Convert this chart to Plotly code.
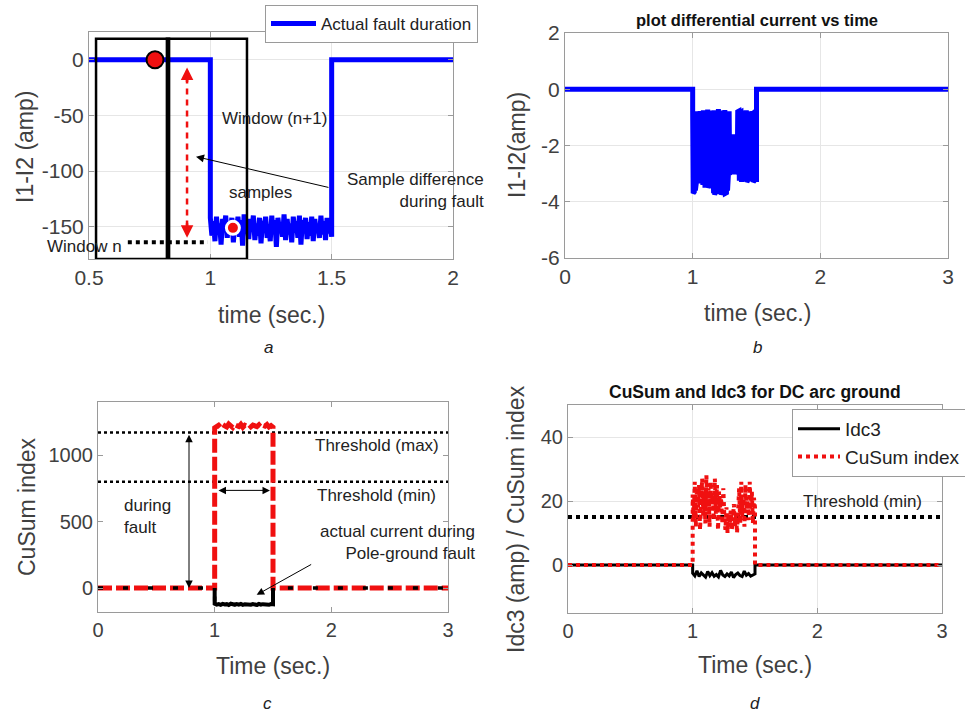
import numpy as np
import plotly.graph_objects as go

W, H = 965, 716
FONT = "Liberation Sans, Arial, Helvetica, sans-serif"

# ---------------- data ----------------
# (a) I1-I2 differential current, fault between 1.0 s and 1.5 s
a_time_edges = [0.5, 1.0, 1.5, 2.0]
a_fault = [-142, -158, -145, -163, -141, -155, -147, -166, -143, -152, -140, -160, -146, -157,
           -142, -164, -148, -153, -141, -159, -144, -167, -139, -156, -146, -161, -143, -154,
           -140, -162, -147, -158, -142, -165, -145, -151, -141, -160, -148, -163, -140, -156,
           -144, -168, -142, -153, -146, -159, -139, -162, -143, -157, -147, -164, -141, -155,
           -145, -160, -140, -166, -144, -152, -142, -161, -146, -158, -141, -163, -143, -154,
           -148, -160, -140, -157, -145, -162, -142, -156, -146, -159]
a_xticks = [0.5, 1, 1.5, 2]
a_yticks = [-150, -100, -50, 0]

# (b) differential current (small scale)
b_time_edges = [0.0, 1.0, 1.5, 3.0]
b_fault = [-0.80, -3.70, -0.85, -3.65, -0.80, -3.60,
           -0.80, -3.30, -0.78, -3.25, -0.82, -3.30, -0.80, -3.35, -0.77, -3.30, -0.80, -3.28,
           -0.80, -3.40, -0.75, -3.45, -0.80, -3.50, -0.78, -3.40, -0.80, -3.45, -0.72, -3.50,
           -0.80, -3.42, -0.76, -3.48, -0.80, -3.50, -0.78, -3.60,
           -0.80, -3.70, -0.75, -3.75, -0.82, -3.65, -0.78, -3.70, -0.80, -3.72, -0.70, -3.60,
           -0.80, -3.70, -0.76, -3.75, -0.80, -3.65, -0.78, -3.70, -0.80, -3.62, -0.74, -3.70,
           -0.80, -3.68, -0.80, -3.60,
           -0.80, -2.90, -0.78, -3.00, -0.80, -2.95,
           -2.40, -3.00, -2.50, -2.90, -1.60, -3.00, -2.50, -2.90, -2.40, -3.00, -2.45, -2.95,
           -0.80, -3.20, -0.78, -3.25, -0.82, -3.20, -0.80, -3.30, -0.76, -3.22, -0.80, -3.28,
           -0.79, -3.20, -0.80, -3.25, -0.75, -3.30, -0.80, -3.22, -0.78, -3.20, -0.80, -3.28,
           -0.81, -3.25, -0.80, -3.20, -0.77, -3.30, -0.80, -3.25, -0.80, -3.22, -0.78, -3.30]
b_yticks = [-6, -4, -2, 0, 2]

# (c) CuSum index and actual current
c_time_edges = [0.0, 1.0, 1.5, 3.0]
c_cusum_fault = [1205, 1215, 1225, 1210, 1230, 1220, 1212, 1235, 1218, 1208, 1228, 1222, 1215,
                 1232, 1210, 1225, 1219, 1230, 1213, 1226, 1220, 1215, 1228, 1211, 1224, 1218,
                 1230, 1212, 1222, 1210]
c_idc3_fault = [-118, -124, -120, -126, -119, -123, -121, -127, -118, -122, -125, -120, -124,
                -119, -126, -121, -123, -118, -125, -120, -122, -127, -119, -124, -121, -123,
                -118, -126, -120, -122]
c_threshold_max = 1170
c_threshold_min = 800
c_yticks = [0, 500, 1000]

# (d) CuSum and Idc3 for DC arc ground
d_time_edges = [0.0, 1.0, 1.5, 3.0]
d_idc3_fault = [-2.6, -3.4, -1.8, -3.6, -2.5, -3.2, -3.8, -2.0, -3.3, -2.4, -3.5, -3.0, -3.7,
                -1.7, -3.1, -3.6, -2.8, -3.4, -2.2, -3.9, -3.0, -2.5, -3.3, -3.6, -1.9, -3.2,
                -2.7, -3.5, -3.1, -2.8]
d_cusum_fault = [22, 14, 26, 12, 24, 18, 25, 11, 20, 27, 15, 23, 13, 28, 17, 24, 12, 26, 19, 22,
                 14, 27, 16, 25, 11, 23, 18, 21, 13, 24,
                 15, 11, 18, 10, 16, 12, 17, 11, 14, 19, 12, 16, 10, 15,
                 24, 13, 26, 15, 22, 12, 25, 17, 20, 14, 26, 16, 23, 13, 21, 18]
d_threshold = 15
d_yticks = [0, 20, 40]
t_ticks = [0, 1, 2, 3]


def series(edges, fault):
    t = np.linspace(edges[1], edges[2], len(fault))
    x = [edges[0], edges[1]] + list(t) + [edges[2], edges[3]]
    y = [0, 0] + list(fault) + [0, 0]
    return x, y


BLUE = "#0000ff"
RED = "#f01010"

fig = go.Figure()

# ---------- panel a ----------
ax_, ay_ = series(a_time_edges, a_fault)
fig.add_trace(go.Scatter(x=ax_, y=ay_, mode="lines", line=dict(color=BLUE, width=5),
                         name="Actual fault duration", legend="legend", xaxis="x", yaxis="y"))
fig.add_trace(go.Scatter(x=[0.904, 0.904], y=[-16, -150], mode="lines",
                         line=dict(color=RED, width=2.5, dash="6px,5px"),
                         showlegend=False, xaxis="x", yaxis="y"))
fig.add_trace(go.Scatter(x=[0.66, 0.99], y=[-164, -164], mode="lines",
                         line=dict(color="black", width=4, dash="dot"),
                         showlegend=False, xaxis="x", yaxis="y"))
fig.add_trace(go.Scatter(x=[0.772], y=[0], mode="markers",
                         marker=dict(color=RED, size=17, line=dict(color="black", width=2)),
                         showlegend=False, xaxis="x", yaxis="y"))
fig.add_trace(go.Scatter(x=[1.093], y=[-151], mode="markers",
                         marker=dict(color=RED, size=13, line=dict(color="white", width=3)),
                         showlegend=False, xaxis="x", yaxis="y"))

# ---------- panel b ----------
bx, by = series(b_time_edges, b_fault)
fig.add_trace(go.Scatter(x=bx, y=by, mode="lines", line=dict(color=BLUE, width=5),
                         showlegend=False, xaxis="x2", yaxis="y2"))

# ---------- panel c ----------
for yv in (c_threshold_max, c_threshold_min):
    fig.add_trace(go.Scatter(x=[0, 3], y=[yv, yv], mode="lines",
                             line=dict(color="black", width=2.5, dash="dot"),
                             showlegend=False, xaxis="x3", yaxis="y3"))
cx, cy = series(c_time_edges, c_cusum_fault)
fig.add_trace(go.Scatter(x=cx, y=cy, mode="lines", line=dict(color=RED, width=5, dash="14px,4px"),
                         showlegend=False, xaxis="x3", yaxis="y3"))
cx2, cy2 = series(c_time_edges, c_idc3_fault)
fig.add_trace(go.Scatter(x=cx2, y=cy2, mode="lines", line=dict(color="black", width=3.5, dash="5px,20px"),
                         showlegend=False, xaxis="x3", yaxis="y3"))
# solid part of the actual current during the fault
c_fault_t = list(np.linspace(c_time_edges[1], c_time_edges[2], len(c_idc3_fault)))
fig.add_trace(go.Scatter(x=[c_time_edges[1]] + c_fault_t + [c_time_edges[2]],
                         y=[0] + c_idc3_fault + [0], mode="lines",
                         line=dict(color="black", width=4),
                         showlegend=False, xaxis="x3", yaxis="y3"))

# ---------- panel d ----------
fig.add_trace(go.Scatter(x=[0, 3], y=[d_threshold, d_threshold], mode="lines",
                         line=dict(color="black", width=4, dash="dot"),
                         showlegend=False, xaxis="x4", yaxis="y4"))
dx, dy = series(d_time_edges, d_idc3_fault)
fig.add_trace(go.Scatter(x=dx, y=dy, mode="lines", line=dict(color="black", width=3),
                         name="Idc3", legend="legend2", xaxis="x4", yaxis="y4"))
dx2, dy2 = series(d_time_edges, d_cusum_fault)
fig.add_trace(go.Scatter(x=dx2, y=dy2, mode="lines", line=dict(color=RED, width=4, dash="dot"),
                         name="CuSum index", legend="legend2", xaxis="x4", yaxis="y4"))

# ---------- axes ----------
def px_x(p):
    return p / W


def px_y(p):
    return 1 - p / H


def fmt(v):
    return ("%g" % v).replace("\u2212", "-")


def axis(domain, rng, tickvals, anchor, grid=True, fs=21):
    return dict(domain=domain, range=rng, tickvals=tickvals, ticktext=[fmt(v) for v in tickvals],
                anchor=anchor, automargin=False,
                showline=True, linecolor="#9a9a9a", linewidth=1, mirror="ticks",
                ticks="inside", ticklen=5, tickcolor="#9a9a9a",
                showgrid=grid, gridcolor="#e6e6e6", gridwidth=1, zeroline=False,
                tickfont=dict(family=FONT, size=fs, color="#404040"))


layout = dict(
    width=W, height=H, margin=dict(l=0, r=0, t=0, b=0, pad=0, autoexpand=False),
    paper_bgcolor="white", plot_bgcolor="white",
    xaxis=axis([px_x(89), px_x(453)], [0.5, 2], a_xticks, "y"),
    yaxis=axis([px_y(259), px_y(32)], [-179, 25], a_yticks, "x"),
    xaxis2=axis([px_x(565), px_x(948)], [0, 3], t_ticks, "y2"),
    yaxis2=axis([px_y(258), px_y(33)], [-6, 2], b_yticks, "x2"),
    xaxis3=axis([px_x(98), px_x(448)], [0, 3], t_ticks, "y3", grid=False, fs=20),
    yaxis3=axis([px_y(612), px_y(402)], [-180, 1400], c_yticks, "x3", grid=False, fs=20),
    xaxis4=axis([px_x(568), px_x(942)], [0, 3], t_ticks, "y4", fs=20),
    yaxis4=axis([px_y(613), px_y(405)], [-15, 50], d_yticks, "x4", fs=20),
    legend=dict(x=px_x(265), y=px_y(5), xanchor="left", yanchor="top", itemwidth=45,
                bgcolor="white", bordercolor="#9a9a9a", borderwidth=1,
                font=dict(family=FONT, size=17, color="#222")),
    legend2=dict(x=px_x(792), y=px_y(409), xanchor="left", yanchor="top", itemwidth=42,
                 bgcolor="white", bordercolor="#9a9a9a", borderwidth=1, tracegroupgap=0,
                 font=dict(family=FONT, size=19, color="#222")),
)
fig.update_layout(**layout)

# rectangles (windows) in panel a
for x0, x1 in [(0.529, 0.83), (0.821, 1.151)]:
    fig.add_shape(type="rect", xref="x", yref="y", x0=x0, x1=x1, y0=-179, y1=19,
                  line=dict(color="black", width=2.5), fillcolor="rgba(0,0,0,0)")

ann = []


def txt(text, x, y, size=17, xref="paper", yref="paper", **kw):
    d = dict(text=text, x=x, y=y, xref=xref, yref=yref, showarrow=False,
             xanchor="center", yanchor="middle",
             font=dict(family=FONT, size=size, color=kw.pop("color", "#222")))
    d.update(kw)
    ann.append(d)


# axis titles (pixel placement)
txt("time (sec.)", px_x(271), px_y(315), size=23, color="#404040")
txt("I1-I2 (amp)", px_x(25), px_y(147), size=23, textangle=-90, color="#404040")
txt("time (sec.)", px_x(757), px_y(313), size=23, color="#404040")
txt("I1-I2(amp)", px_x(517), px_y(145), size=23, textangle=-90, color="#404040")
txt("Time (sec.)", px_x(273), px_y(666), size=23, color="#404040")
txt("CuSum index", px_x(27), px_y(507), size=23, textangle=-90, color="#404040")
txt("Time (sec.)", px_x(755), px_y(665), size=23, color="#404040")
txt("Idc3 (amp) / CuSum index", px_x(516), px_y(519), size=23, textangle=-90, color="#404040")

# titles
txt("<b>plot differential current vs time</b>", px_x(757), px_y(20), size=16.5, color="#111")
txt("<b>CuSum and Idc3 for DC arc ground</b>", px_x(755), px_y(392), size=17.5, color="#111")

# sub-figure letters
for lab, x, y in [("a", 268, 347), ("b", 757, 347), ("c", 267, 703), ("d", 755, 703)]:
    txt("<i>%s</i>" % lab, px_x(x), px_y(y), size=17, color="#222")

# panel a texts
txt("Window (n+1)", 1.266, -53, xref="x", yref="y")
txt("samples", 1.205, -119, xref="x", yref="y")
txt("Sample difference<br>during fault", 1.845, -117, xref="x", yref="y", align="right")
txt("Window n", 0.645, -168, xref="x", yref="y", xanchor="right")
# arrows panel a
ann.append(dict(x=0.941, y=-87, ax=1.493, ay=-115, xref="x", yref="y", axref="x", ayref="y",
                text="", showarrow=True, arrowhead=2, arrowsize=1.6, arrowwidth=1, arrowcolor="black"))
ann.append(dict(x=0.904, y=-7, ax=0, ay=16, xref="x", yref="y", text="", showarrow=True,
                arrowhead=2, arrowsize=1, arrowwidth=2.5, arrowcolor=RED))
ann.append(dict(x=0.904, y=-160, ax=0, ay=-16, xref="x", yref="y", text="", showarrow=True,
                arrowhead=2, arrowsize=1, arrowwidth=2.5, arrowcolor=RED))

# panel c texts
txt("Threshold (max)", 2.39, 1073, xref="x3", yref="y3")
txt("Threshold (min)", 2.39, 698, xref="x3", yref="y3")
txt("during<br>fault", 0.206, 540, xref="x3", yref="y3", xanchor="left", align="left")
txt("actual current during<br>Pole-ground fault", 2.571, 340, xref="x3", yref="y3", align="right")
ann.append(dict(x=0.78, y=0, ax=0.78, ay=1165, xref="x3", yref="y3", axref="x3", ayref="y3",
                text="", showarrow=True, arrowhead=2, startarrowhead=2, arrowside="end+start",
                arrowsize=1.5, startarrowsize=1.5, arrowwidth=1, arrowcolor="black"))
ann.append(dict(x=1.474, y=735, ax=1.02, ay=735, xref="x3", yref="y3", axref="x3", ayref="y3",
                text="", showarrow=True, arrowhead=2, startarrowhead=2, arrowside="end+start",
                arrowsize=1.5, startarrowsize=1.5, arrowwidth=1, arrowcolor="black"))
ann.append(dict(x=1.36, y=-51, ax=1.84, ay=184, xref="x3", yref="y3", axref="x3", ayref="y3",
                text="", showarrow=True, arrowhead=2, arrowsize=1.5, arrowwidth=1, arrowcolor="black"))

# panel d texts
txt("Threshold (min)", 2.36, 19.7, xref="x4", yref="y4")

fig.update_layout(annotations=ann)
fig.write_html("out.html")
